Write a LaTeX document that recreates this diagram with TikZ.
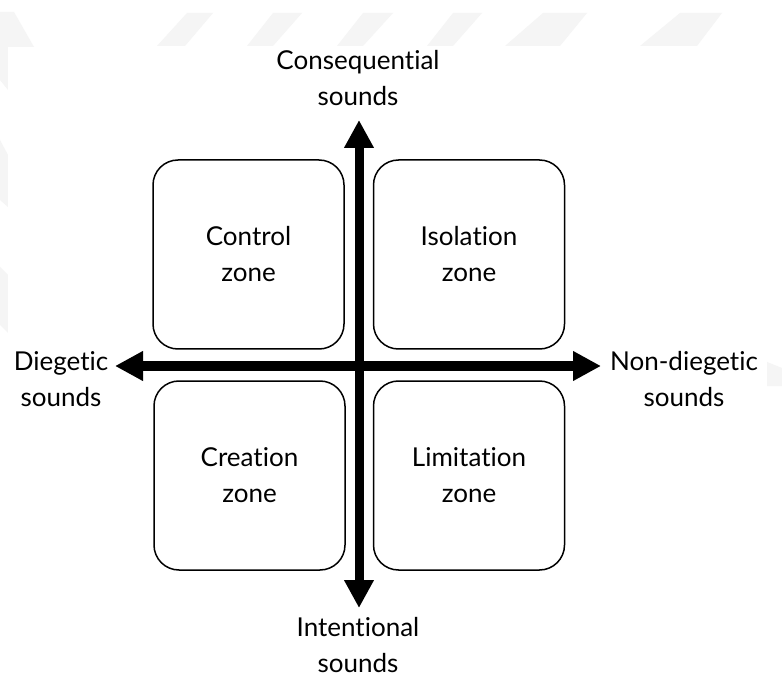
\documentclass[tikz,border=0pt]{standalone}
\usepackage{fontspec}
\setmainfont[Ligatures={NoCommon,NoRequired,NoContextual},RawFeature={-liga;-clig;-dlig}]{Lato}
\usetikzlibrary{arrows.meta}

\tikzset{
  zonebox/.style={draw=black, line width=1.5pt, rounded corners=25pt,
    minimum width=191pt, minimum height=189pt, inner sep=0pt,
    align=center, font=\fontsize{26pt}{36pt}\selectfont},
  axislabel/.style={align=center, inner sep=0pt,
    font=\fontsize{26pt}{36pt}\selectfont},
  axis/.style={line width=9pt, {Triangle[length=28pt,width=28pt]}-{Triangle[length=28pt,width=28pt]}},
  wmark/.style={fill=black!4, draw=none}
}

\begin{document}
\begin{tikzpicture}[x=1pt, y=-1pt]
  \useasboundingbox (0,0) rectangle (782,676);
  \fill[white] (0,0) rectangle (782,676);

  % faint page watermark behind the figure
  \fill[wmark] (0,12) -- (14,12) -- (34,47) -- (0,47) -- cycle;
  \fill[wmark] (187,13) -- (213,13) -- (185,46) -- (157,46) -- cycle;
  \fill[wmark] (273,13) -- (302,13) -- (273,46) -- (247,46) -- cycle;
  \fill[wmark] (363,13) -- (393,13) -- (363,46) -- (337,46) -- cycle;
  \fill[wmark] (453,13) -- (482,13) -- (453,46) -- (427,46) -- cycle;
  \fill[wmark] (543,13) -- (587,13) -- (560,46) -- (505,46) -- cycle;
  \fill[wmark] (680,13) -- (722,13) -- (697,46) -- (640,46) -- cycle;
  \fill[wmark] (0,47) -- (8,47) -- (8,90) -- (0,80) -- cycle;
  \fill[wmark] (0,140) -- (8,155) -- (8,207) -- (0,200) -- cycle;
  \fill[wmark] (0,267) -- (8,275) -- (8,333) -- (0,325) -- cycle;
  \fill[wmark] (767,362) -- (782,368) -- (782,386) -- (767,386) -- cycle;

  % figure canvas
  \fill[white] (8,47) rectangle (767,676);

  % the four zones
  \node[zonebox] (control)    at (248.5,254.5) {Control\\zone};
  \node[zonebox] (isolation)  at (469,254.5)   {Isolation\\zone};
  \node[zonebox] (creation)   at (249.5,475.5) {Creation\\zone};
  \node[zonebox] (limitation) at (469,475.5)   {Limitation\\zone};

  % axis end points
  \coordinate (ytop) at (359,120);
  \coordinate (ybot) at (359,608);
  \coordinate (xleft) at (115,366);
  \coordinate (xright) at (601,366);

  % axes
  \draw[axis] (xleft) -- (xright);
  \draw[axis] (ybot) -- (ytop);

  % axis labels
  \node[axislabel] (consequential) at (358,78)  {Consequential\\sounds};
  \node[axislabel] (intentional)   at (358,645) {Intentional\\sounds};
  \node[axislabel] (diegetic)      at (61,379)  {Diegetic\\sounds};
  \node[axislabel] (nondiegetic)   at (684,379) {Non-diegetic\\sounds};
\end{tikzpicture}
\end{document}
